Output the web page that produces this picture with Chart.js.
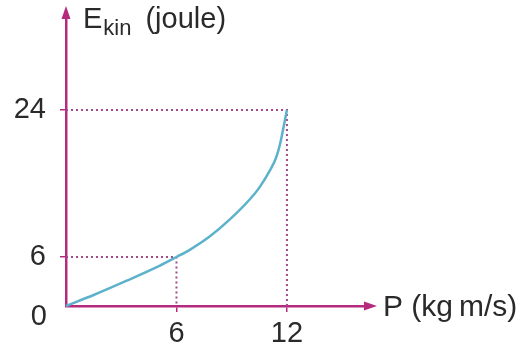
<!DOCTYPE html>
<html>
<head>
<meta charset="utf-8">
<script src="https://cdn.jsdelivr.net/npm/chart.js@4/dist/chart.umd.min.js"></script>
<style>
  html, body { margin: 0; padding: 0; background: #ffffff; }
  #wrap { width: 524px; height: 355px; }
</style>
</head>
<body>
<div id="wrap"><canvas id="c" width="524" height="355"></canvas></div>
<script>
// Kinetic energy against momentum
const momentum = [0, 1.5, 3.3, 5.1, 6, 6.7, 7.8, 8.9, 10.0, 10.5, 11.1, 11.4, 11.6, 12];
const energy   = [0, 1.35, 3.1, 4.95, 6, 6.85, 8.5, 10.6, 13.1, 14.5, 16.7, 18.1, 19.6, 24];

// Marked points with dotted guides to both axes
const markedP = [6, 12];
const markedE = [6, 24];

// Tick labels
const xTicks = [6, 12];
const yTicks = [6, 24];
const originLabel = '0';

const AXIS = '#b62a7e';
const GUIDE = '#a44a8c';
const CURVE = '#5cb2cb';
const TEXT = '#2a2a2a';
const FONT = '"Liberation Sans", Arial, Helvetica, sans-serif';

const curve = momentum.map((p, i) => ({ x: p, y: energy[i] }));

const guideSets = markedP.map((p, i) => ({
  data: [{ x: 0, y: markedE[i] }, { x: p, y: markedE[i] }, { x: p, y: 0 }],
  borderColor: GUIDE,
  borderWidth: 2,
  borderDash: [2, 3],
  pointRadius: 0,
  tension: 0,
  clip: false
}));

// Arrowheads on both axes plus the axis titles and the shared origin label
const axisDecor = {
  id: 'axisDecor',
  afterDraw(chart) {
    const { ctx, chartArea } = chart;
    const x0 = chart.scales.x.getPixelForValue(0);
    const y0 = chart.scales.y.getPixelForValue(0);
    ctx.save();
    ctx.fillStyle = AXIS;
    // up arrow
    ctx.beginPath();
    ctx.moveTo(x0, chartArea.top - 12);
    ctx.lineTo(x0 - 4.5, chartArea.top + 1);
    ctx.lineTo(x0 + 4.5, chartArea.top + 1);
    ctx.closePath();
    ctx.fill();
    // right arrow
    ctx.beginPath();
    ctx.moveTo(chartArea.right + 12, y0);
    ctx.lineTo(chartArea.right - 1, y0 - 4.5);
    ctx.lineTo(chartArea.right - 1, y0 + 4.5);
    ctx.closePath();
    ctx.fill();

    ctx.fillStyle = TEXT;
    ctx.textBaseline = 'alphabetic';
    ctx.textAlign = 'left';
    // y-axis title: E with subscript "kin"
    ctx.font = '29px ' + FONT;
    const tx = x0 + 17;
    const ty = chartArea.top + 10;
    ctx.fillText('E', tx, ty);
    const eW = ctx.measureText('E').width;
    ctx.font = '22px ' + FONT;
    ctx.fillText('kin', tx + eW + 1, ty + 7);
    const kW = ctx.measureText('kin').width;
    ctx.font = '29px ' + FONT;
    ctx.fillText('(joule)', tx + eW + 1 + kW + 14, ty);

    // x-axis title
    ctx.font = '30px ' + FONT;
    ctx.textBaseline = 'middle';
    ctx.fillText('P (kg\u2009m/s)', chartArea.right + 18, y0 + 2);

    // origin label
    ctx.font = '29px ' + FONT;
    ctx.textAlign = 'right';
    ctx.fillText(originLabel, x0 - 19, y0 + 11);
    ctx.restore();
  }
};

new Chart(document.getElementById('c'), {
  type: 'line',
  data: {
    datasets: [
      {
        data: curve,
        borderColor: CURVE,
        borderWidth: 2.5,
        pointRadius: 0,
        cubicInterpolationMode: 'monotone',
        clip: false
      },
      ...guideSets
    ]
  },
  options: {
    responsive: false,
    animation: false,
    devicePixelRatio: 1,
    layout: { padding: { top: 18, right: 159, left: 0, bottom: 0 } },
    plugins: { legend: { display: false }, tooltip: { enabled: false } },
    scales: {
      x: {
        type: 'linear',
        min: 0,
        max: 16.24,
        afterFit(scale) {
          scale.height = 49;
          scale.paddingLeft = 0;
          scale.paddingRight = 0;
        },
        afterBuildTicks(scale) { scale.ticks = xTicks.map(v => ({ value: v })); },
        border: { display: true, color: AXIS, width: 2.5 },
        grid: { display: true, drawOnChartArea: false, drawTicks: true, tickLength: 6, color: AXIS, lineWidth: 1.5 },
        ticks: { color: TEXT, font: { family: FONT, size: 29 }, padding: 5, maxRotation: 0, autoSkip: false }
      },
      y: {
        type: 'linear',
        min: 0,
        max: 35.27,
        afterFit(scale) {
          scale.width = 66;
          scale.paddingTop = 0;
          scale.paddingBottom = 0;
        },
        afterBuildTicks(scale) { scale.ticks = yTicks.map(v => ({ value: v })); },
        border: { display: true, color: AXIS, width: 2.5 },
        grid: { display: true, drawOnChartArea: false, drawTicks: true, tickLength: 6, color: AXIS, lineWidth: 1.5 },
        ticks: { color: TEXT, font: { family: FONT, size: 29 }, padding: 14, autoSkip: false }
      }
    }
  },
  plugins: [axisDecor]
});
</script>
</body>
</html>
